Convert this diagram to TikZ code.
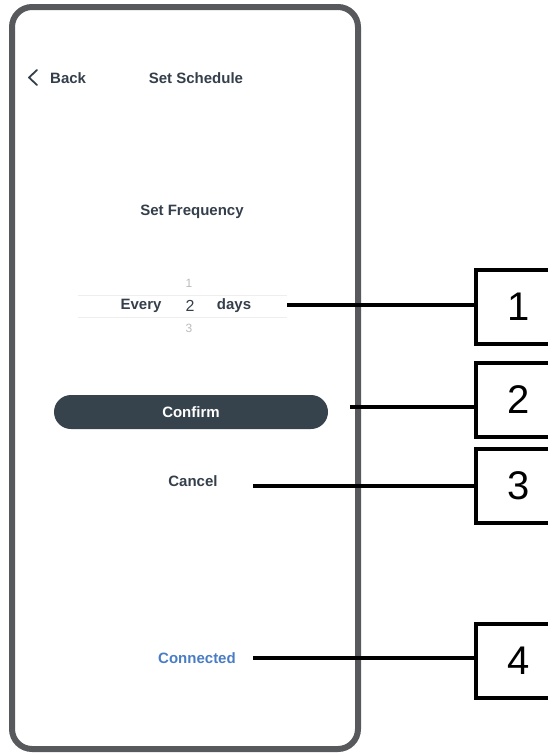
\documentclass[tikz,border=0pt]{standalone}
\usepackage{fontspec}
\setmainfont{Liberation Sans}
\definecolor{frame}{HTML}{58595C}
\definecolor{ink}{HTML}{343F4B}
\definecolor{btn}{HTML}{36434D}
\definecolor{link}{HTML}{4A7CC4}
\definecolor{sep}{HTML}{EEEEEE}
\definecolor{faint}{HTML}{BBBBBB}
\tikzset{
  lbl/.style={font=\fontsize{15}{18}\selectfont\bfseries, text=ink, inner sep=0pt},
  callout/.style={draw=black, line width=4pt, minimum width=86pt, minimum height=74pt, inner sep=0pt, font=\fontsize{40}{44}\selectfont},
  conn/.style={black, line width=4pt},
}
\begin{document}
\begin{tikzpicture}[x=1pt,y=-1pt]
\useasboundingbox (0,0) rectangle (548,753);
% phone frame
\draw[frame, line width=6pt, rounded corners=20pt] (12,7) rectangle (358,749);
% header
\draw[ink, line width=1.8pt, line cap=round, line join=round] (37,70) -- (29,77.5) -- (37,85);
\node[lbl, anchor=west] (back) at (50,78) {Back};
\node[lbl] (title) at (196,78) {Set Schedule};
\node[lbl] (freq) at (192,212) {Set Frequency};
% picker
\draw[sep, line width=1pt] (78,295) -- (287,295);
\draw[sep, line width=1pt] (78,317) -- (287,317);
\node[text=faint, font=\fontsize{12}{14}\selectfont, inner sep=0pt] (n1) at (189,283) {1};
\node[lbl] (every) at (141,306) {Every};
\node[text=ink, font=\fontsize{16}{18}\selectfont, inner sep=0pt] (n2) at (190,306) {2};
\node[lbl] (days) at (234,306) {days};
\node[text=faint, font=\fontsize{12}{14}\selectfont, inner sep=0pt] (n3) at (189,328) {3};
\coordinate (p1) at (287,305);
% confirm
\node[fill=btn, rounded corners=17pt, minimum width=274pt, minimum height=34pt, inner sep=0pt,
      text=white, font=\fontsize{15}{18}\selectfont\bfseries] (confirm) at (191,412) {Confirm};
\coordinate (p2) at (350,407);
\node[lbl] (cancel) at (193,481) {Cancel};
\coordinate (p3) at (253,486);
\node[lbl, text=link] (conn) at (197,658) {Connected};
\coordinate (p4) at (253,658);
% callouts
\node[callout, anchor=north west] (c1) at (474,268) {1};
\node[callout, anchor=north west] (c2) at (474,361) {2};
\node[callout, anchor=north west] (c3) at (474,447) {3};
\node[callout, anchor=north west] (c4) at (474,622) {4};
\draw[conn] (p1) -- (p1 -| c1.west);
\draw[conn] (p2) -- (p2 -| c2.west);
\draw[conn] (p3) -- (p3 -| c3.west);
\draw[conn] (p4) -- (p4 -| c4.west);
\end{tikzpicture}
\end{document}
